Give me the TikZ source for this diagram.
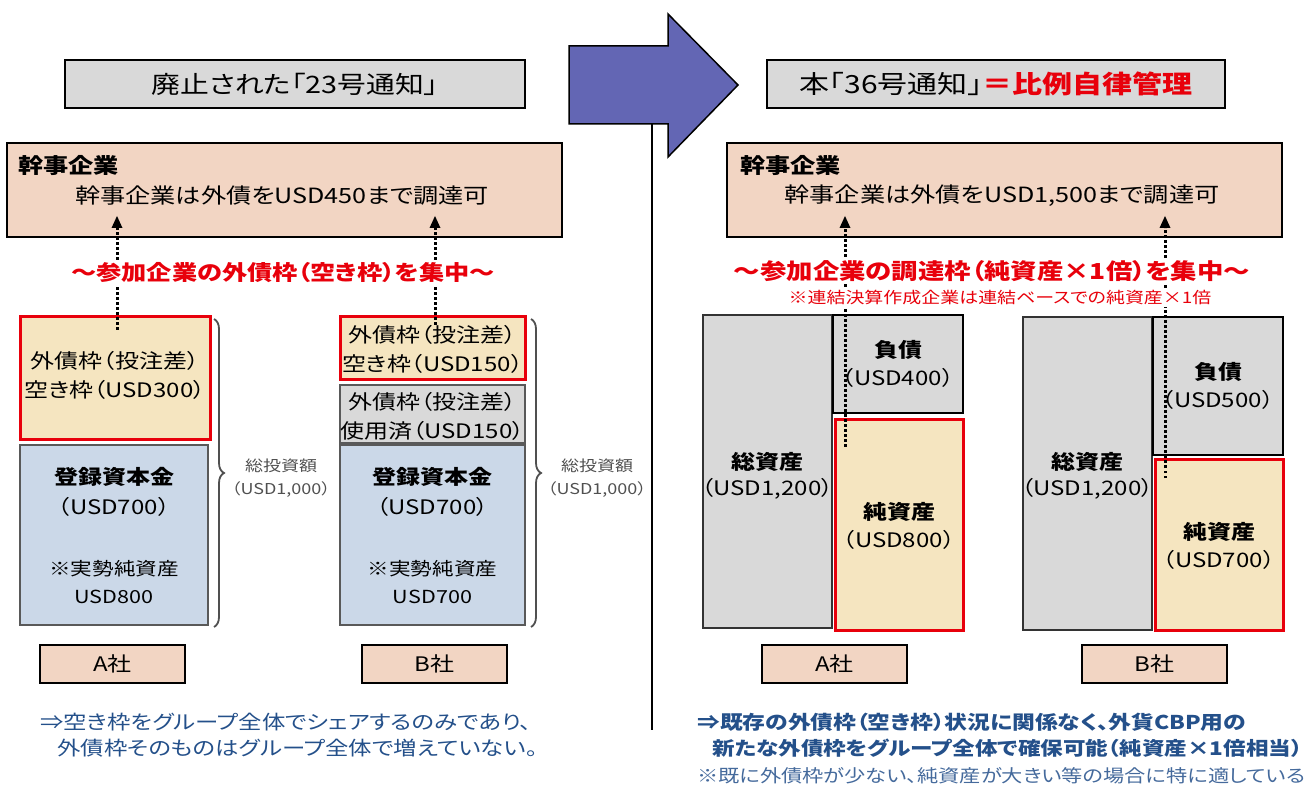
\documentclass[tikz,border=0pt]{standalone}
\usepackage{fontspec}
\setmainfont{Noto Sans CJK JP}[FakeStretch=1.2, RawFeature=+palt]
\usetikzlibrary{decorations.pathreplacing,arrows.meta}
\definecolor{salmon}{HTML}{F2D5C3}
\definecolor{lyellow}{HTML}{F5E5C0}
\definecolor{lblue}{HTML}{CBD8E8}
\definecolor{lgray}{HTML}{D9D9D9}
\definecolor{arrowblue}{HTML}{6366B4}
\definecolor{myred}{HTML}{E8000B}
\definecolor{dblue}{HTML}{24508A}
\definecolor{bracegray}{HTML}{505050}
\tikzset{
  box/.style={rectangle, inner sep=0pt, anchor=center},
  titlebox/.style={box, fill=lgray, draw=black, line width=1.6pt},
  kanjibox/.style={box, fill=salmon, draw=black, line width=2pt},
  compbox/.style={box, fill=salmon, draw=black, line width=1.6pt},
  freebox/.style={box, fill=lyellow, draw=myred, line width=3pt},
  usedbox/.style={box, fill=lgray, draw=gray!70!black, line width=1.5pt},
  capbox/.style={box, fill=lblue, draw=gray!70!black, line width=1.5pt},
  assetbox/.style={box, fill=lgray, draw=black!80, line width=1.3pt},
  debtbox/.style={box, fill=lgray, draw=black, line width=2.6pt},
  lbl/.style={inner sep=0pt, align=center, font=\fontsize{20}{29}\selectfont},
  lblb/.style={inner sep=0pt, align=center, font=\fontsize{20}{29}\selectfont\bfseries},
  smallgray/.style={inner sep=0pt, align=center, text=bracegray, font=\fontsize{15}{23}\selectfont},
  redlbl/.style={inner sep=2pt, fill=white, text=myred, font=\fontsize{21}{24}\selectfont\bfseries},
  dotarrow/.style={line width=3pt, dash pattern=on 2.5pt off 2.5pt, -{Triangle[width=11pt,length=12pt,line width=0pt]}},
  brace/.style={decorate, decoration={brace, amplitude=10pt}, draw=bracegray, line width=1.8pt},
  note/.style={inner sep=0pt, anchor=west, text=dblue, font=\fontsize{19.5}{24}\selectfont},
}
\begin{document}
\begin{tikzpicture}[x=1pt,y=-1pt]
\useasboundingbox (0,0) rectangle (1315,791);
% transition arrow and divider
\draw[line width=1.5pt] (652,124) -- (652,730);
\fill[arrowblue, draw=black, line width=1.5pt, line join=miter]
  (569,46) -- (668,46) -- (668,14) -- (738,85) -- (668,157) -- (668,124) -- (569,124) -- cycle;

% titles
\node[titlebox, minimum width=460pt, minimum height=48pt] (titleL) at (295,84) {};
\node[lbl, font=\fontsize{24}{26}\selectfont] (titleLt) at (titleL) {廃止された「23号通知」};
\node[titlebox, minimum width=458pt, minimum height=48pt] (titleR) at (996,84) {};
\node[lbl, font=\fontsize{25}{26}\selectfont] (titleRt) at (titleR) {本「36号通知」\textcolor{myred}{\bfseries ＝比例自律管理}};

% ===== left side =====
\node[kanjibox, minimum width=555pt, minimum height=94pt] (kanjiL) at (284.5,190) {};
\node[lblb, anchor=west, font=\fontsize{21}{24}\selectfont\bfseries] (kanjiLh) at (18,165) {幹事企業};
\node[lbl, font=\fontsize{21}{24}\selectfont] (kanjiLt) at (282,196) {幹事企業は外債をUSD450まで調達可};

\node[freebox, minimum width=190pt, minimum height=123pt] (Afree) at (115,378.5) {};
\node[capbox, minimum width=188pt, minimum height=180pt] (Acap) at (114,535) {};
\node[freebox, minimum width=185pt, minimum height=63pt] (Bfree) at (432.5,348.5) {};
\node[usedbox, minimum width=185pt, minimum height=58pt] (Bused) at (432.5,414) {};
\node[capbox, minimum width=185pt, minimum height=180pt] (Bcap) at (432.5,535) {};

\coordinate (Asrc) at (117,330);
\coordinate (Bsrc) at (435,325);
\draw[dotarrow] (Asrc) -- (Asrc |- 0,216);
\draw[dotarrow] (Bsrc) -- (Bsrc |- 0,216);
\node[redlbl] (redL) at (283,273) {～参加企業の外債枠（空き枠）を集中～};

\node[lbl] (AfreeT) at (115,375) {外債枠（投注差）\\空き枠（USD300）};
\node[lblb] (AcapT1) at (114,477) {登録資本金};
\node[lbl] (AcapT2) at (114,507) {（USD700）};
\node[lbl, font=\fontsize{18}{28}\selectfont] (AcapT3) at (114,582) {※実勢純資産\\USD800};
\node[lbl] (BfreeT) at (432.5,349) {外債枠（投注差）\\空き枠（USD150）};
\node[lbl] (BusedT) at (432.5,416.5) {外債枠（投注差）\\使用済（USD150）};
\node[lblb] (BcapT1) at (432.5,477) {登録資本金};
\node[lbl] (BcapT2) at (432.5,507) {（USD700）};
\node[lbl, font=\fontsize{18}{28}\selectfont] (BcapT3) at (432.5,582) {※実勢純資産\\USD700};

\draw[brace] (214,319) -- (214,627);
\node[smallgray] (AtotT) at (281,478) {総投資額\\（USD1,000）};
\draw[brace] (531,319) -- (531,627);
\node[smallgray] (BtotT) at (597,478) {総投資額\\（USD1,000）};

\node[compbox, minimum width=145pt, minimum height=38pt] (Acomp) at (112.5,664) {};
\node[lbl] at (Acomp) {A社};
\node[compbox, minimum width=145pt, minimum height=38pt] (Bcomp) at (434.5,664) {};
\node[lbl] at (Bcomp) {B社};

\node[note] (noteL1) at (40,722) {⇒空き枠をグループ全体でシェアするのみであり、};
\node[note] (noteL2) at (57,748) {外債枠そのものはグループ全体で増えていない。};

% ===== right side =====
\node[kanjibox, minimum width=555pt, minimum height=94pt] (kanjiR) at (1004.5,190) {};
\node[lblb, anchor=west, font=\fontsize{21}{24}\selectfont\bfseries] (kanjiRh) at (740,165) {幹事企業};
\node[lbl, font=\fontsize{21}{24}\selectfont] (kanjiRt) at (1002,196) {幹事企業は外債をUSD1,500まで調達可};

\node[assetbox, minimum width=129pt, minimum height=313pt] (RAtot) at (767.5,471.5) {};
\node[debtbox, minimum width=130pt, minimum height=98pt] (RAdebt) at (898,364) {};
\node[freebox, minimum width=128pt, minimum height=210pt] (RAnet) at (899,525) {};
\node[assetbox, minimum width=129pt, minimum height=313pt] (RBtot) at (1087.5,473.5) {};
\node[debtbox, minimum width=130pt, minimum height=138pt] (RBdebt) at (1218,386) {};
\node[freebox, minimum width=128pt, minimum height=170pt] (RBnet) at (1219,545) {};

\coordinate (RAsrc) at (845,447);
\coordinate (RBsrc) at (1165,478);
\draw[dotarrow] (RAsrc) -- (RAsrc |- 0,216);
\draw[dotarrow] (RBsrc) -- (RBsrc |- 0,216);
\node[redlbl, font=\fontsize{22}{24}\selectfont\bfseries] (redR) at (992,271) {～参加企業の調達枠（純資産×1倍）を集中～};
\node[inner sep=2pt, fill=white, text=myred, font=\fontsize{15.8}{18}\selectfont] (redR2) at (1000,298) {※連結決算作成企業は連結ベースでの純資産×1倍};

\node[lblb] (RAtotT1) at (767.5,462) {総資産};
\node[lbl] (RAtotT2) at (767.5,489) {（USD1,200）};
\node[lblb] (RAdebtT1) at (898,350) {負債};
\node[lbl] (RAdebtT2) at (898,378) {（USD400）};
\node[lblb] (RAnetT1) at (899,512) {純資産};
\node[lbl] (RAnetT2) at (899,540) {（USD800）};
\node[lblb] (RBtotT1) at (1087.5,462) {総資産};
\node[lbl] (RBtotT2) at (1087.5,489) {（USD1,200）};
\node[lblb] (RBdebtT1) at (1218,372) {負債};
\node[lbl] (RBdebtT2) at (1218,400) {（USD500）};
\node[lblb] (RBnetT1) at (1219,532) {純資産};
\node[lbl] (RBnetT2) at (1219,560) {（USD700）};

\node[compbox, minimum width=145pt, minimum height=38pt] (RAcomp) at (834.5,664) {};
\node[lbl] at (RAcomp) {A社};
\node[compbox, minimum width=145pt, minimum height=38pt] (RBcomp) at (1154.5,664) {};
\node[lbl] at (RBcomp) {B社};

\node[note, font=\fontsize{19}{24}\selectfont\bfseries] (noteR1) at (697,722) {⇒既存の外債枠（空き枠）状況に関係なく、外貨CBP用の};
\node[note, font=\fontsize{18.8}{24}\selectfont\bfseries] (noteR2) at (712,748) {新たな外債枠をグループ全体で確保可能（純資産×1倍相当）};
\node[note, text=dblue!85, font=\fontsize{17.7}{24}\selectfont] (noteR3) at (697,776) {※既に外債枠が少ない、純資産が大きい等の場合に特に適している};
\end{tikzpicture}
\end{document}
